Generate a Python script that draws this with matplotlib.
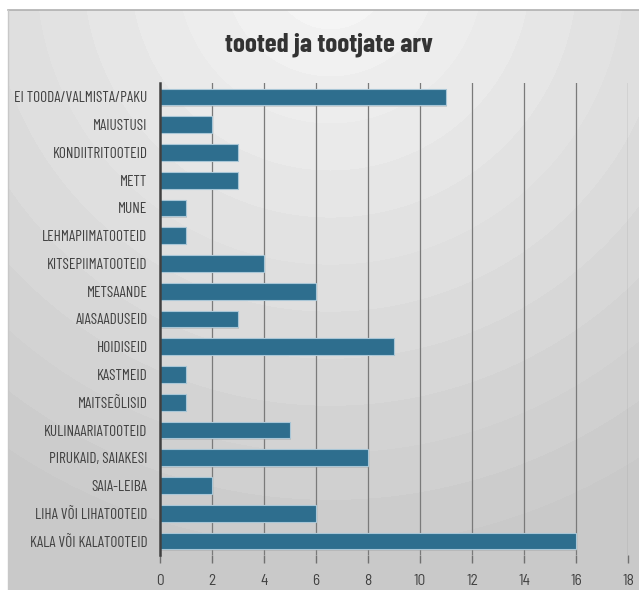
import numpy as np
import matplotlib
matplotlib.use('Agg')
import matplotlib.pyplot as plt

categories = ['KALA VÕI KALATOOTEID', 'LIHA VÕI LIHATOOTEID', 'SAIA-LEIBA', 'PIRUKAID, SAIAKESI',
              'KULINAARIATOOTEID', 'MAITSEÕLISID', 'KASTMEID', 'HOIDISEID', 'AIASAADUSEID',
              'METSAANDE', 'KITSEPIIMATOOTEID', 'LEHMAPIIMATOOTEID', 'MUNE', 'METT',
              'KONDIITRITOOTEID', 'MAIUSTUSI', 'EI TOODA/VALMISTA/PAKU']
values = [16, 6, 2, 8, 5, 1, 1, 9, 3, 6, 4, 1, 1, 3, 3, 2, 11]
xticks = [0, 2, 4, 6, 8, 10, 12, 14, 16, 18]
title = 'tooted ja tootjate arv'

cond = ['Barlow Condensed', 'Roboto Condensed', 'DejaVu Sans']
plt.rcParams['font.family'] = ['Barlow Semi Condensed', 'Roboto Condensed', 'DejaVu Sans']

W, H = 639, 590
fig = plt.figure(figsize=(W / 100, H / 100), dpi=100)

# panel background, radial banding from the top centre
bg = fig.add_axes([8 / W, 0, (W - 8) / W, (H - 10) / H])
yy, xx = np.mgrid[0:580, 0:631]
r = np.hypot(xx - 322, yy + 40)
g = 0.975 - 0.17 * np.clip(r / 560.0, 0, 1.1)
g = np.floor(g * 70) / 70
bg.imshow(g, cmap='gray', vmin=0, vmax=1, aspect='auto', interpolation='bilinear')
bg.set_axis_off()
fig.add_artist(plt.Line2D([8 / W, 1], [(H - 10) / H, (H - 10) / H], color='#b0b0b0', lw=1.2))
fig.add_artist(plt.Line2D([8 / W, 8 / W], [0, (H - 10) / H], color='#c8c8c8', lw=1))

ax = fig.add_axes([160 / W, 35 / H, 468 / W, 472 / H])
ax.patch.set_alpha(0)
y = np.arange(len(categories))
ax.barh(y - 0.05, values, height=0.6, left=0.04, color='#9a9a9a', alpha=0.35, zorder=2)
ax.barh(y, values, height=0.6, color='#2e6e8e', edgecolor='#a9c6d6', linewidth=0.8, zorder=3)
ax.set_ylim(-0.5, len(categories) - 0.5)
ax.set_xlim(0, 18)
ax.set_xticks(xticks)
ax.set_yticks(y)
ax.set_yticklabels(categories, fontsize=11, color='#404040', family=cond)
ax.tick_params(axis='x', labelsize=11, colors='#404040', length=6, width=1, color='#707070', pad=8)
ax.tick_params(axis='y', length=0, pad=9)
for t in xticks[1:]:
    ax.axvline(t, color='#7a7a7a', lw=0.9, zorder=1)
for s in ['top', 'right', 'bottom']:
    ax.spines[s].set_visible(False)
ax.spines['left'].set_color('#404040')
ax.spines['left'].set_linewidth(1.8)
ax.spines['left'].set_zorder(4)

fig.text(329 / W, 1 - 45 / H, title, ha='center', va='center', fontsize=19.5,
         fontweight='bold', color='#333333', family=cond)

fig.savefig('out.png', dpi=100)
